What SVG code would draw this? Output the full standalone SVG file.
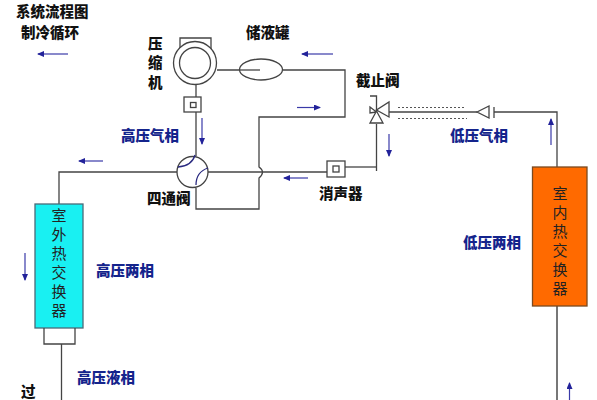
<svg xmlns="http://www.w3.org/2000/svg" width="597" height="400" viewBox="0 0 597 400">
<style>
text{font-family:"Noto Sans CJK SC","Liberation Sans",sans-serif;font-size:14.500px}
.k{font-weight:900;fill:#111}
.b{font-weight:900;fill:#14248c}
.n{fill:#222;text-anchor:middle;font-size:15px}
.l{fill:none;stroke:#444;stroke-width:1.3}
.s{fill:#fff;stroke:#444;stroke-width:1.3}
.d{fill:none;stroke:#555;stroke-width:1.2;stroke-dasharray:2 2}
.a{stroke:#3a3aa8;stroke-width:1.2;fill:none;marker-end:url(#h)}
.c{fill:none;stroke:#2a2a80;stroke-width:1.3}
</style>
<defs><marker id="h" markerWidth="7" markerHeight="6" refX="6" refY="3" orient="auto" markerUnits="userSpaceOnUse"><path d="M0 0L7 3L0 6Z" fill="#22229a"/></marker></defs>
<rect width="597" height="400" fill="#fff"/>
<g id="connectors">
<path class="l" d="M217 70H239M283 70H345V117H259V167Q266 172 259 178V209H196V188"/>
<path class="l" d="M196 85V97M196 112V156"/>
<path class="l" d="M177 172H59V204"/>
<path class="l" d="M208 172H327"/>
<path class="l" d="M345 167H376.500"/>
<path class="l" d="M376.500 124V171"/>
<path class="l" d="M389 112H477"/>
<path class="l" d="M494 112H557V167"/>
<path class="l" d="M61.500 344V400"/>
<path d="M557 306V400" fill="none" stroke="#777" stroke-width="2"/>
<path class="d" d="M398 107.500H466M398 118.500H467"/>
<path class="a" d="M68 54H38"/>
<path class="a" d="M103 161H79"/>
<path class="a" d="M202 118V144"/>
<path class="a" d="M333 54H302"/>
<path class="a" d="M297 107.500H320"/>
<path class="a" d="M308 178H284"/>
<path class="a" d="M389 134V156"/>
<path class="a" d="M551 145V119"/>
<path class="a" d="M25 253V280"/>
<path class="a" d="M569.500 400V383"/>
</g>
<g id="title"><text class="k" x="16" y="17">系统流程图</text><text class="k" x="21" y="38">制冷循环</text></g>
<g id="compressor">
<path class="l" d="M180 50V38H211V50"/>
<circle class="s" cx="195" cy="63" r="21.500"/><circle class="s" cx="195" cy="63" r="15.500"/>
<text class="k" x="148" y="49">压</text><text class="k" x="148" y="68">缩</text><text class="k" x="148" y="88">机</text>
</g>
<g id="discharge-box"><rect class="s" x="184" y="97" width="17" height="15"/><rect class="s" x="190.500" y="102.500" width="5.500" height="5"/></g>
<g id="receiver"><ellipse class="s" cx="261" cy="69.500" rx="21.500" ry="10.500"/><path class="l" d="M239 70H260"/><text class="k" x="246" y="38">储液罐</text></g>
<g id="four-way-valve">
<circle class="s" cx="192.500" cy="172" r="15.500"/>
<path class="c" d="M178 167Q192 166 195 155M196 185Q196 172 208 168"/>
<text class="k" x="147" y="204">四通阀</text>
</g>
<g id="muffler"><rect class="s" x="327" y="161" width="18" height="16"/><rect class="s" x="333" y="166" width="6" height="6"/><text class="k" x="319" y="199">消声器</text></g>
<g id="stop-valve">
<path class="l" d="M370 96H376.500V112"/>
<path class="s" d="M370 107L376.500 112L370 113ZM389 102V117L376.500 110Z"/>
<path class="s" d="M376.500 111L370 123H383Z"/>
<text class="k" x="356" y="86">截止阀</text>
</g>
<g id="check-valve"><path class="s" d="M477 112L489 106V118Z"/><path class="l" d="M494 107V118"/></g>
<g id="outdoor-exchanger">
<rect x="35" y="204" width="48" height="124" fill="#19f0f2" stroke="#4a6a78" stroke-width="1.300"/>
<path class="l" d="M44 328V344H75V328"/>
<text class="n" x="59" y="221">室</text><text class="n" x="59" y="240">外</text><text class="n" x="59" y="259">热</text><text class="n" x="59" y="278">交</text><text class="n" x="59" y="297">换</text><text class="n" x="59" y="316">器</text>
</g>
<g id="indoor-exchanger">
<rect x="532.500" y="167" width="54.500" height="139" fill="#ff6a00" stroke="#7a4a20" stroke-width="1.300"/>
<text class="n" x="560" y="199">室</text><text class="n" x="560" y="218">内</text><text class="n" x="560" y="237">热</text><text class="n" x="560" y="256">交</text><text class="n" x="560" y="275">换</text><text class="n" x="560" y="294">器</text>
</g>
<g id="labels">
<text class="b" x="121" y="141">高压气相</text>
<text class="b" x="450" y="141">低压气相</text>
<text class="b" x="463" y="248">低压两相</text>
<text class="b" x="96" y="276">高压两相</text>
<text class="b" x="77" y="383">高压液相</text>
<text class="k" x="21" y="397">过</text>
</g>
</svg>
